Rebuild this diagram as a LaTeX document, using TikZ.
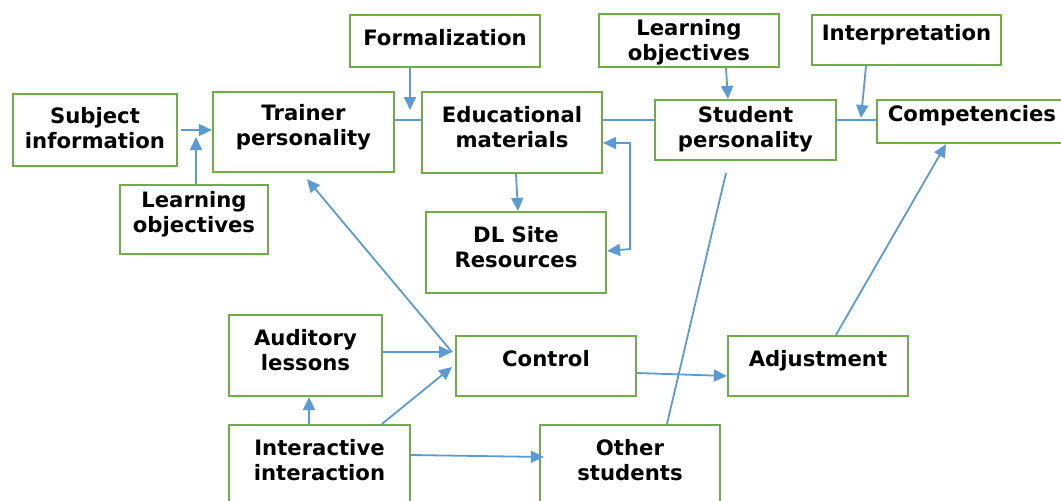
\documentclass[tikz,border=0pt]{standalone}
\usepackage{fontspec}
\setmainfont{DejaVu Sans}
\usetikzlibrary{arrows.meta}
\definecolor{boxgreen}{RGB}{112,173,71}
\definecolor{arrblue}{RGB}{91,155,213}
\begin{document}
\begin{tikzpicture}[x=1pt,y=-1pt,
  box/.style={draw=boxgreen, line width=2.2pt, align=center, inner sep=0pt, font=\fontsize{21.2}{24.5}\selectfont\bfseries},
  sz/.style 2 args={minimum width=#1pt, minimum height=#2pt},
  oneline/.style={text height=15.5pt, text depth=15.5pt},
  tl/.style={text height=#1pt, text depth=10pt},
  arr/.style={draw=arrblue, line width=1.8pt, -{Triangle[length=13pt,width=12pt]}},
  dblarr/.style={draw=arrblue, line width=1.8pt, {Triangle[length=13pt,width=12pt]}-{Triangle[length=13pt,width=12pt]}},
  ln/.style={draw=arrblue, line width=1.8pt},
]
\useasboundingbox (0,0) rectangle (1061,501);
\clip (0,0) rectangle (1061,501);

% boxes
\node[box, sz={164}{72}, tl=46] (subj) at (95,130) {Subject\\information};
\node[box, sz={181}{80}, tl=36] (trainer) at (303.5,132) {Trainer\\personality};
\node[box, sz={190}{52}, text height=15.5pt, text depth=7pt] (formal) at (445,41) {Formalization};
\node[box, sz={180}{81}, tl=39] (edu) at (512,132.5) {Educational\\materials};
\node[box, sz={148}{69}, tl=35] (lobja) at (194,219.5) {Learning\\objectives};
\node[box, sz={180}{81}, tl=39] (dl) at (516,252.5) {DL Site\\Resources};
\node[box, sz={180}{53}, text height=39pt, text depth=0pt] (lobjb) at (689,40.5) {Learning\\objectives};
\node[box, sz={181}{60}, tl=44] (student) at (745.5,130) {Student\\personality};
\node[box, sz={189}{50}, oneline] (interp) at (906.5,40) {Interpretation};
\node[box, sz={190}{43}, oneline] (comp) at (972,121.5) {Competencies};
\node[box, sz={153}{81}, tl=39] (aud) at (305.5,355.5) {Auditory\\lessons};
\node[box, sz={180}{60}, oneline] (control) at (546,366) {Control};
\node[box, sz={180}{60}, oneline] (adj) at (818,366) {Adjustment};
\node[box, sz={181}{85}, tl=35] (inter) at (319.5,467.5) {Interactive\\interaction};
\node[box, sz={180}{85}, tl=35] (other) at (630,467.5) {Other\\students};

% free ends
\coordinate (jA) at (196,137);
\coordinate (jF) at (410,110);
\coordinate (jI) at (861,118);
\coordinate (cinA) at (452,352);
\coordinate (cinB) at (452,367);
\coordinate (sp) at (726,173);

% connectors
\draw[arr] ([xshift=3pt]subj.east) -- (subj.east -| trainer.west);
\draw[arr] ([xshift=2pt]lobja.north) -- (jA);
\draw[arr] ([xshift=-35pt]formal.south) -- (jF);
\draw[ln] ([yshift=12pt]trainer.east) -- ([yshift=12.5pt]edu.west);
\draw[ln] ([yshift=12.5pt]edu.east) -- ([yshift=10pt]student.west);
\draw[ln] ([yshift=10pt]student.east) -- ([yshift=1.5pt]comp.west);
\draw[arr] ([xshift=4pt]edu.south) -- ([xshift=2pt]dl.north);
\draw[dblarr] ([yshift=-10.5pt]edu.east) -- ++(27,0) -- ++(0,106) -- ([yshift=1.5pt]dl.east);
\draw[arr] ([xshift=37pt]lobjb.south) -- ([xshift=-17.5pt]student.north);
\draw[arr] ([xshift=-40.5pt]interp.south) -- (jI);
\draw[arr] (cinA) -- ([xshift=3.5pt,yshift=-6pt]trainer.south);
\draw[arr] ([yshift=3.5pt]aud.east) -- (cinA);
\draw[arr] ([xshift=62.5pt]inter.north) -- (cinB);
\draw[arr] ([xshift=-10.5pt]inter.north) -- ([xshift=3.5pt]aud.south);
\draw[arr] ([yshift=12.5pt]inter.east) -- ([xshift=5pt,yshift=10.5pt]other.west);
\draw[arr] ([yshift=-7pt]control.east) -- ([yshift=-10pt]adj.west);
\draw[ln] ([xshift=37pt]other.north) -- (sp);
\draw[arr] ([xshift=18pt]adj.north) -- ([xshift=-26pt]comp.south);
\end{tikzpicture}
\end{document}
